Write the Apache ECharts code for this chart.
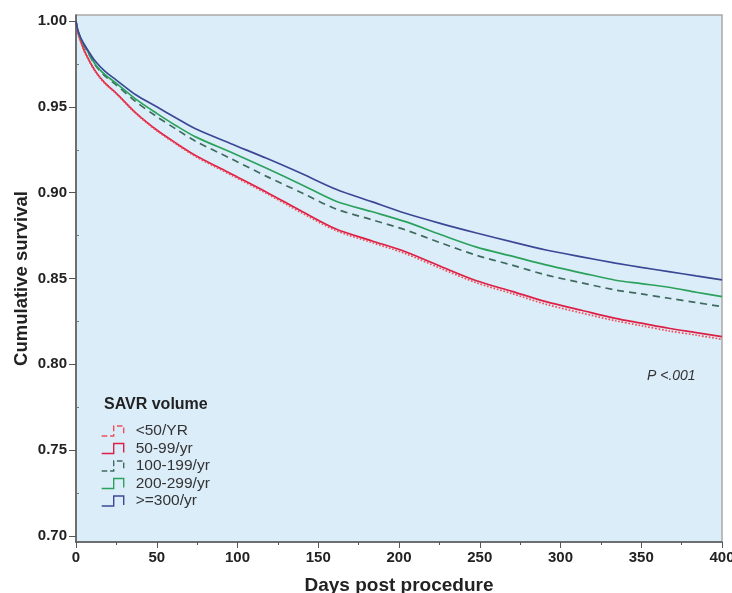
<!DOCTYPE html>
<html><head><meta charset="utf-8">
<script src="https://cdn.jsdelivr.net/npm/echarts@6/dist/echarts.min.js"></script>
<style>html,body{margin:0;padding:0;background:#fff}#c{width:732px;height:593px}</style>
</head><body><div id="c"></div>
<script>
const days = [0,1,3,6,12,18,25,37,50,62,74,96,118,140,161,183,204,226,248,270,291,313,334,350,367,384,400];
const under50 = [1.0,0.9938,0.9877,0.9806,0.9704,0.9635,0.9576,0.9462,0.9361,0.9283,0.9211,0.9103,0.8995,0.8881,0.8779,0.871,0.8645,0.8558,0.8475,0.8412,0.835,0.8299,0.8254,0.8225,0.8195,0.817,0.8146];
const v50_99 = [1.0,0.994,0.988,0.981,0.9708,0.9638,0.9579,0.9465,0.9365,0.9288,0.9217,0.911,0.9003,0.889,0.8788,0.872,0.8656,0.857,0.8487,0.8425,0.8365,0.8315,0.8268,0.824,0.821,0.8185,0.8161];
const v100_199 = [1.0,0.995,0.9892,0.984,0.9742,0.9679,0.9627,0.953,0.9443,0.937,0.930,0.9198,0.9095,0.8998,0.8905,0.8843,0.8783,0.8707,0.8635,0.8578,0.8521,0.8475,0.8433,0.841,0.8385,0.836,0.8336];
const v200_299 = [1.0,0.995,0.9895,0.9845,0.9747,0.9687,0.9637,0.9545,0.9462,0.939,0.9325,0.9235,0.9142,0.9045,0.895,0.889,0.8831,0.8755,0.8683,0.863,0.8579,0.8533,0.849,0.847,0.8449,0.842,0.8394];
const v300plus = [1.0,0.995,0.990,0.985,0.9765,0.9706,0.9656,0.957,0.950,0.9435,0.9372,0.9285,0.920,0.911,0.902,0.8948,0.888,0.882,0.8765,0.8713,0.8666,0.8626,0.859,0.8565,0.854,0.8515,0.8492];
const seriesNames = ['<50/YR','50-99/yr','100-199/yr','200-299/yr','>=300/yr'];
const yTickLabels = [0.70,0.75,0.80,0.85,0.90,0.95,1.00];
const yMinorTicks = [0.725,0.775,0.825,0.875,0.925,0.975];

const colors = ['#ee4f5a','#dc1f45','#3f6b5f','#2ba25c','#3a4896'];
const dashes = ['dotted','solid',[7,5],'solid','solid'];
const values = [under50, v50_99, v100_199, v200_299, v300plus];
const stepIcon = 'path://M0 10 L12 10 L12 0 L22 0 L22 9';
const font = '"Liberation Sans", Arial, sans-serif';

const chart = echarts.init(document.getElementById('c'));
chart.setOption({
  animation: false,
  grid: {left: 76, right: 10, top: 15, bottom: 51, outerBoundsMode: 'none', containLabel: false, show: true, backgroundColor: '#dcedfa', borderColor: '#a9a9a9', borderWidth: 1.5},
  title: {text: 'SAVR volume', left: 99, top: 392, textStyle: {fontFamily: font, fontSize: 16, fontWeight: 'bold', color: '#222'}},
  legend: {
    orient: 'vertical', left: 96, top: 418, itemWidth: 26, itemHeight: 10, itemGap: 1.5,
    icon: stepIcon,
    textStyle: {fontFamily: font, fontSize: 15.5, color: '#333', padding: [0,0,0,5]},
    data: seriesNames.map((n, i) => ({name: n, itemStyle: {color: 'transparent', borderColor: colors[i], borderWidth: 1.4, borderType: dashes[i] === 'solid' ? 'solid' : 'dashed'}}))
  },
  xAxis: {
    type: 'value', min: 0, max: 400, interval: 50,
    name: 'Days post procedure', nameLocation: 'middle', nameGap: 34,
    nameTextStyle: {fontFamily: font, fontSize: 19, fontWeight: 'bold', color: '#222'},
    axisLine: {lineStyle: {color: '#555', width: 1.5}},
    axisTick: {length: 6, lineStyle: {color: '#555'}},
    minorTick: {show: true, splitNumber: 2, length: 3, lineStyle: {color: '#555'}},
    axisLabel: {fontFamily: font, fontSize: 15, fontWeight: 'bold', color: '#222', margin: 8},
    splitLine: {show: false}
  },
  yAxis: [{
    type: 'value', min: 0.6965, max: 1.0035,
    name: 'Cumulative survival', nameLocation: 'middle', nameGap: 45, nameMoveOverlap: false,
    nameTextStyle: {fontFamily: font, fontSize: 18.5, fontWeight: 'bold', color: '#222'},
    axisLine: {show: true, lineStyle: {color: '#555', width: 1.5}},
    axisTick: {show: true, length: 7, customValues: yTickLabels, lineStyle: {color: '#555'}},
    axisLabel: {customValues: yTickLabels, formatter: v => v.toFixed(2), fontFamily: font, fontSize: 15, fontWeight: 'bold', color: '#222', margin: 9},
    splitLine: {show: false}
  }, {
    type: 'value', min: 0.6965, max: 1.0035, position: 'left',
    axisLine: {show: false},
    axisTick: {show: true, inside: true, length: 3, customValues: yMinorTicks, lineStyle: {color: '#777'}},
    axisLabel: {show: false}, splitLine: {show: false}
  }],
  graphic: [{type: 'text', left: 647, top: 369, style: {text: 'P <.001', font: 'italic 14px ' + font, fill: '#333'}}],
  series: values.map((vals, i) => ({
    name: seriesNames[i], type: 'line', showSymbol: false, smooth: 0.3,
    data: days.map((d, j) => [d, vals[j]]),
    lineStyle: {color: colors[i], width: 1.7, type: dashes[i]},
    itemStyle: {color: colors[i]},
    z: i === 0 ? 6 : 2 + i
  }))
});
</script></body></html>
